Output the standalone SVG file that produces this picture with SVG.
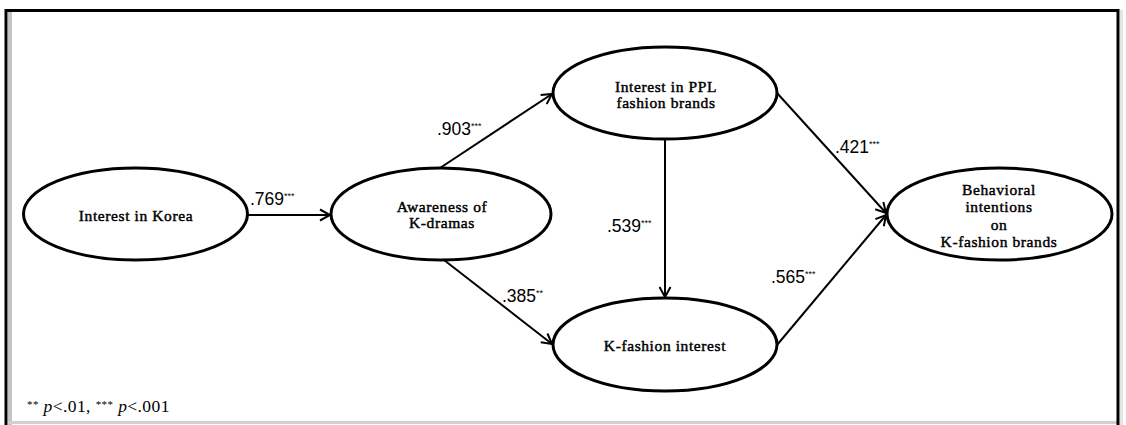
<svg xmlns="http://www.w3.org/2000/svg" width="1126" height="425" viewBox="0 0 1126 425">
<style>
.node ellipse{fill:#fff;stroke:#000;stroke-width:3}
.node text{font-family:"Liberation Serif","DejaVu Serif",serif;font-size:15.5px;letter-spacing:0.6px;fill:#000;text-anchor:middle;stroke:#000;stroke-width:0.45}
.conn path{fill:none;stroke:#000;stroke-width:2}
.lbl{font-family:"Liberation Sans","DejaVu Sans",sans-serif;font-size:17.5px;fill:#000}
.st{font-size:9px}
.note{font-family:"Liberation Serif","DejaVu Serif",serif;font-size:17.5px;letter-spacing:0.4px;fill:#000}
</style>
<defs>
<marker id="arr" markerUnits="userSpaceOnUse" markerWidth="14" markerHeight="14" viewBox="0 0 14 14" refX="12" refY="7" orient="auto">
<path d="M2,1.5 L12,7 L2,12.5" fill="none" stroke="#000" stroke-width="2"/>
</marker>
</defs>
<rect x="0" y="0" width="1126" height="425" fill="#fff"/>
<g id="frame">
<rect x="8" y="12" width="4" height="413" fill="#c4c4c4"/>
<rect x="8" y="421" width="1109" height="3" fill="#d0d0d0"/>
<path d="M6,425 L6,10.5 L1118,10.5 L1118,425" fill="none" stroke="#000" stroke-width="3"/>
<rect x="1120" y="10" width="3" height="415" fill="#e4e4e4"/>
</g>
<g id="connectors" class="conn">
<path d="M248,215 L330,215" marker-end="url(#arr)"/>
<path d="M440,168 L552,94" marker-end="url(#arr)"/>
<path d="M444,260 L552,344" marker-end="url(#arr)"/>
<path d="M665,139 L665,297" marker-end="url(#arr)"/>
<path d="M777,93 L886,213" marker-end="url(#arr)"/>
<path d="M777,345 L886,215" marker-end="url(#arr)"/>
</g>
<g id="labels">
<text class="lbl" x="250" y="205">.769<tspan class="st" dy="-6">***</tspan></text>
<text class="lbl" x="437" y="135">.903<tspan class="st" dy="-6">***</tspan></text>
<text class="lbl" x="502" y="302">.385<tspan class="st" dy="-6">**</tspan></text>
<text class="lbl" x="607" y="232">.539<tspan class="st" dy="-6">***</tspan></text>
<text class="lbl" x="835" y="153">.421<tspan class="st" dy="-6">***</tspan></text>
<text class="lbl" x="771" y="283">.565<tspan class="st" dy="-6">***</tspan></text>
</g>
<g id="n-korea" class="node">
<ellipse cx="135.5" cy="214" rx="112" ry="46"/>
<text x="136" y="221">Interest in Korea</text>
</g>
<g id="n-awareness" class="node">
<ellipse cx="441" cy="214" rx="110" ry="46"/>
<text x="442" y="212">Awareness of</text>
<text x="442" y="228">K-dramas</text>
</g>
<g id="n-ppl" class="node">
<ellipse cx="665" cy="93" rx="112" ry="46"/>
<text x="666" y="92">Interest in PPL</text>
<text x="666" y="108">fashion brands</text>
</g>
<g id="n-kfashion" class="node">
<ellipse cx="665" cy="344.5" rx="112" ry="46.5"/>
<text x="665" y="351">K-fashion interest</text>
</g>
<g id="n-behavioral" class="node">
<ellipse cx="999.5" cy="214" rx="112.5" ry="46"/>
<text x="999" y="195">Behavioral</text>
<text x="999" y="212">intentions</text>
<text x="999" y="229.5">on</text>
<text x="999" y="247">K-fashion brands</text>
</g>
<text class="note" x="27" y="412"><tspan font-size="11" dy="-4">**</tspan><tspan dy="4"> </tspan><tspan font-style="italic">p</tspan>&lt;.01, <tspan font-size="11" dy="-4">***</tspan><tspan dy="4"> </tspan><tspan font-style="italic">p</tspan>&lt;.001</text>
</svg>
